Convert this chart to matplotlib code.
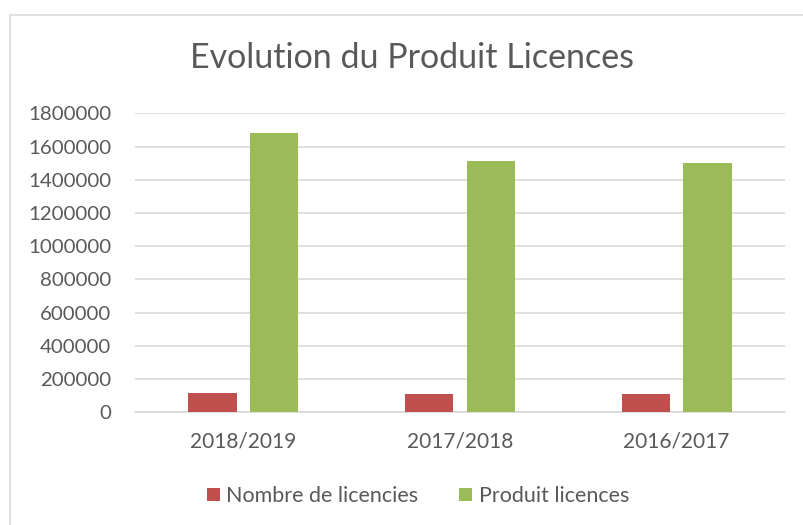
import matplotlib.pyplot as plt
import numpy as np
from matplotlib.patches import Rectangle

# données
saisons = ["2018/2019", "2017/2018", "2016/2017"]
nombre_licencies = [114000, 110000, 108000]
produit_licences = [1680000, 1511000, 1501000]
y_ticks = [0, 200000, 400000, 600000, 800000, 1000000, 1200000, 1400000, 1600000, 1800000]

plt.rcParams['font.family'] = ['Lato', 'DejaVu Sans']
gris = "#595959"

fig = plt.figure(figsize=(8.04, 5.25), dpi=100)
fig.patches.append(Rectangle((10 / 804, -0.01), 1.0, 1 - 15 / 525 + 0.01,
                             transform=fig.transFigure, fill=False,
                             edgecolor="#D9D9D9", linewidth=1.2))
ax = fig.add_axes([135 / 804, 1 - 412.3 / 525, 650 / 804, 299 / 525])

x = np.arange(len(saisons))
bar_width = 0.223
ax.bar(x - 0.143, nombre_licencies, bar_width, color="#C0504D", label="Nombre de licencies", zorder=3)
ax.bar(x + 0.143, produit_licences, bar_width, color="#9BBB59", label="Produit licences", zorder=3)

ax.set_xlim(-0.5, 2.5)
ax.set_ylim(0, 1800000)
ax.set_yticks(y_ticks)
ax.set_yticklabels([str(v) for v in y_ticks])
ax.set_xticks(x)
ax.set_xticklabels(saisons)
ax.tick_params(axis="y", length=0, labelsize=14.7, colors=gris, pad=17)
ax.tick_params(axis="x", length=0, labelsize=15, colors=gris, pad=14)
ax.grid(axis="y", color="#D9D9D9", linewidth=1.2, zorder=0)
for s in ["top", "right", "left"]:
    ax.spines[s].set_visible(False)
ax.spines["bottom"].set_color("#D9D9D9")
ax.spines["bottom"].set_linewidth(1.2)

fig.text(412 / 804, 1 - 58 / 525, "Evolution du Produit Licences", ha="center", va="center",
         fontsize=24.5, color=gris)

leg = fig.legend(loc="center", bbox_to_anchor=(418 / 804, 1 - 496 / 525), ncol=2, frameon=False,
                 fontsize=15.5, handlelength=0.6, handleheight=0.6, handletextpad=0.3,
                 columnspacing=1.9, labelcolor=gris)

fig.savefig("out.png", dpi=100)
